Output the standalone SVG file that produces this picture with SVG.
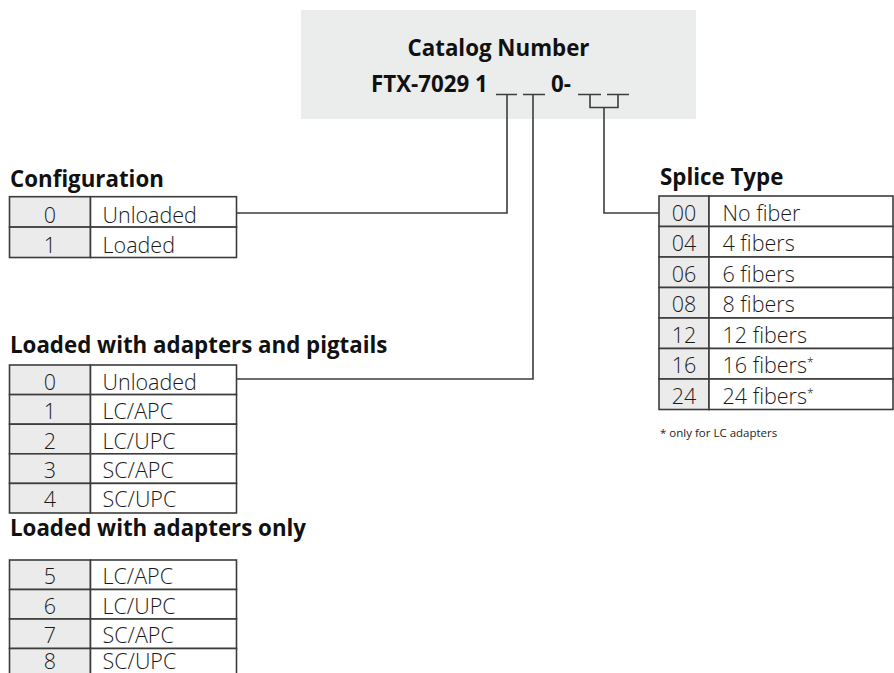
<svg xmlns="http://www.w3.org/2000/svg" width="894" height="673" viewBox="0 0 894 673">
<style>
.bg{fill:#ffffff}
.hdr{fill:#ebecec}
.cell{fill:#ffffff;stroke:#3c3c3c;stroke-width:1.6}
.code{fill:#ebebeb;stroke:#3c3c3c;stroke-width:1.6}
.conn{fill:none;stroke:#3c3c3c;stroke-width:1.6}
.t{font-family:"Open Sans","Noto Sans","DejaVu Sans",sans-serif;font-size:21.5px;fill:#1a1a1a;font-weight:350}
.c{text-anchor:middle}
.h{font-family:"Open Sans","Noto Sans","DejaVu Sans",sans-serif;font-size:22.3px;font-weight:700;fill:#111}
.big{font-family:"Open Sans","Noto Sans","DejaVu Sans",sans-serif;font-size:22.3px;font-weight:700;fill:#111}
.note{font-family:"Open Sans","Noto Sans","DejaVu Sans",sans-serif;font-size:11.5px;fill:#1e1e1e}
.sup{font-size:12px}
</style>
<rect class="bg" x="0" y="0" width="894" height="673"/>

<g id="catalog">
<rect class="hdr" x="301" y="10" width="395" height="109"/>
<text class="big" x="498.5" y="56" text-anchor="middle">Catalog Number</text>
<text class="big" x="371" y="92">FTX-7029 1</text>
<text class="big" x="551" y="92">0-</text>
</g>

<g id="connectors">
<path class="conn" d="M496 94.5H517M507 94.5V213H237"/>
<path class="conn" d="M523 94.5H545M533 94.5V379H237"/>
<path class="conn" d="M578 94.5H601M607 94.5H629M590 94.5V107.5H618V94.5M604 107.5V213H659"/>
</g>

<g id="configuration">
<text class="h" x="10" y="187">Configuration</text>
<rect class="code" x="9.5" y="196.7" width="81" height="30.4"/>
<rect class="cell" x="90.5" y="196.7" width="146" height="30.4"/>
<rect class="code" x="9.5" y="227.1" width="81" height="30.4"/>
<rect class="cell" x="90.5" y="227.1" width="146" height="30.4"/>
<text class="t c" x="50" y="222.5">0</text><text class="t" x="102.5" y="222.5">Unloaded</text>
<text class="t c" x="50" y="252.9">1</text><text class="t" x="102.5" y="252.9">Loaded</text>
</g>

<g id="pigtails">
<text class="h" x="10" y="353">Loaded with adapters and pigtails</text>
<rect class="code" x="9.5" y="365" width="81" height="29.6"/>
<rect class="cell" x="90.5" y="365" width="146" height="29.6"/>
<rect class="code" x="9.5" y="394.6" width="81" height="29.6"/>
<rect class="cell" x="90.5" y="394.6" width="146" height="29.6"/>
<rect class="code" x="9.5" y="424.2" width="81" height="29.6"/>
<rect class="cell" x="90.5" y="424.2" width="146" height="29.6"/>
<rect class="code" x="9.5" y="453.8" width="81" height="29.6"/>
<rect class="cell" x="90.5" y="453.8" width="146" height="29.6"/>
<rect class="code" x="9.5" y="483.4" width="81" height="29.6"/>
<rect class="cell" x="90.5" y="483.4" width="146" height="29.6"/>
<text class="t c" x="50" y="389.5">0</text><text class="t" x="102.5" y="389.5">Unloaded</text>
<text class="t c" x="50" y="419.1">1</text><text class="t" x="102.5" y="419.1">LC/APC</text>
<text class="t c" x="50" y="448.7">2</text><text class="t" x="102.5" y="448.7">LC/UPC</text>
<text class="t c" x="50" y="478.3">3</text><text class="t" x="102.5" y="478.3">SC/APC</text>
<text class="t c" x="50" y="507.4">4</text><text class="t" x="102.5" y="507.4">SC/UPC</text>
</g>

<g id="adapters-only">
<text class="h" x="10" y="536">Loaded with adapters only</text>
<rect class="code" x="9.5" y="560" width="81" height="29.5"/>
<rect class="cell" x="90.5" y="560" width="146" height="29.5"/>
<rect class="code" x="9.5" y="589.5" width="81" height="29.5"/>
<rect class="cell" x="90.5" y="589.5" width="146" height="29.5"/>
<rect class="code" x="9.5" y="619" width="81" height="29.5"/>
<rect class="cell" x="90.5" y="619" width="146" height="29.5"/>
<rect class="code" x="9.5" y="648.5" width="81" height="29.5"/>
<rect class="cell" x="90.5" y="648.5" width="146" height="29.5"/>
<text class="t c" x="50" y="584.3">5</text><text class="t" x="102.5" y="584.3">LC/APC</text>
<text class="t c" x="50" y="613.5">6</text><text class="t" x="102.5" y="613.5">LC/UPC</text>
<text class="t c" x="50" y="642.7">7</text><text class="t" x="102.5" y="642.7">SC/APC</text>
<text class="t c" x="50" y="669">8</text><text class="t" x="102.5" y="669">SC/UPC</text>
</g>

<g id="splice-type">
<text class="h" x="660" y="185">Splice Type</text>
<rect class="code" x="659" y="196" width="50" height="30.5"/>
<rect class="cell" x="709" y="196" width="184" height="30.5"/>
<rect class="code" x="659" y="226.5" width="50" height="30.5"/>
<rect class="cell" x="709" y="226.5" width="184" height="30.5"/>
<rect class="code" x="659" y="257" width="50" height="30.5"/>
<rect class="cell" x="709" y="257" width="184" height="30.5"/>
<rect class="code" x="659" y="287.5" width="50" height="30.5"/>
<rect class="cell" x="709" y="287.5" width="184" height="30.5"/>
<rect class="code" x="659" y="318" width="50" height="30.5"/>
<rect class="cell" x="709" y="318" width="184" height="30.5"/>
<rect class="code" x="659" y="348.5" width="50" height="30.5"/>
<rect class="cell" x="709" y="348.5" width="184" height="30.5"/>
<rect class="code" x="659" y="379" width="50" height="30.5"/>
<rect class="cell" x="709" y="379" width="184" height="30.5"/>
<text class="t c" x="684" y="220.5">00</text><text class="t" x="722.5" y="220.5">No fiber</text>
<text class="t c" x="684" y="251">04</text><text class="t" x="722.5" y="251">4 fibers</text>
<text class="t c" x="684" y="281.5">06</text><text class="t" x="722.5" y="281.5">6 fibers</text>
<text class="t c" x="684" y="312">08</text><text class="t" x="722.5" y="312">8 fibers</text>
<text class="t c" x="684" y="342.5">12</text><text class="t" x="722.5" y="342.5">12 fibers</text>
<text class="t c" x="684" y="373">16</text><text class="t" x="722.5" y="373">16 fibers<tspan class="sup" dy="-6">*</tspan></text>
<text class="t c" x="684" y="403.5">24</text><text class="t" x="722.5" y="403.5">24 fibers<tspan class="sup" dy="-6">*</tspan></text>
<text class="note" x="660" y="437">* only for LC adapters</text>
</g>
</svg>
